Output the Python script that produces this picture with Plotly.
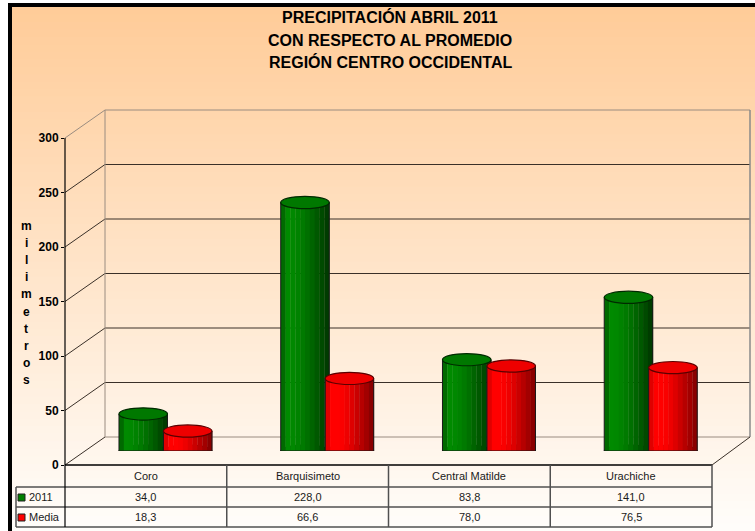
import plotly.graph_objects as go

# ---------------- data ----------------
categories = ["Coro", "Barquisimeto", "Central Matilde", "Urachiche"]
series_names = ["2011", "Media"]
values_2011 = [34.0, 228.0, 83.8, 141.0]
values_media = [18.3, 66.6, 78.0, 76.5]
y_ticks = [0, 50, 100, 150, 200, 250, 300]
title_lines = ["PRECIPITACIÓN ABRIL 2011", "CON RESPECTO AL PROMEDIO", "REGIÓN CENTRO OCCIDENTAL"]
axis_title = "milimetros"

# ---------------- geometry / style ----------------
W, H = 755, 531


def px(x):
    return x / W


def py(y):
    return 1 - y / H


FX0, FX1 = 65, 712          # front plane x extent (px)
FY0, FYT = 465, 138         # front plane y for 0 and 300 (px)
YMAX = 300
DX, DY = 40, -28            # depth offset of back wall (px)
UNIT = (FY0 - FYT) / YMAX   # px per data unit

BAR_W = 0.30
OFFSETS = [-0.29, -0.015]
N_STRIPS = 10
green_shades = ['#006a00', '#008a00', '#008800', '#008200', '#007a00',
                '#007000', '#006400', '#005800', '#004a00', '#003c00']
red_shades = ['#e00000', '#ff0000', '#ff0000', '#fa0000', '#ee0000',
              '#de0000', '#ca0000', '#b60000', '#a20000', '#8a0000']
shades = [green_shades, red_shades]
top_fill = ['#007800', '#ee0000']
top_line = ['#002a00', '#5a0000']
bot_fill = ['#005a00', '#b80000']
legend_colors = ['#008000', '#ff0000']
series_values = [values_2011, values_media]

fig = go.Figure()

# bars drawn as vertical strips to give a cylinder shading
for s, vals in enumerate(series_values):
    for k in range(N_STRIPS):
        fig.add_trace(go.Bar(
            x=categories, y=vals, xaxis='x2', yaxis='y2',
            width=BAR_W / N_STRIPS + 0.002,
            offset=OFFSETS[s] + k * BAR_W / N_STRIPS,
            marker=dict(color=shades[s][k], line=dict(width=0)),
            name=series_names[s], showlegend=False, hoverinfo='skip'))
    fig.add_trace(go.Bar(
        x=categories, y=vals, xaxis='x2', yaxis='y2',
        width=BAR_W, offset=OFFSETS[s],
        marker=dict(color='rgba(0,0,0,0)', line=dict(color='#1a1a1a', width=1)),
        name=series_names[s], showlegend=False,
        hovertemplate='%{x}: %{y:.1f}<extra>' + series_names[s] + '</extra>'))

shapes = []

# background gradient (kept inside the paper)
N_BG = 70
top_c = (255, 204, 153)
bot_c = (255, 253, 250)
y_start, y_end = 7, H
for i in range(N_BG):
    t = i / (N_BG - 1)
    c = tuple(int(round(top_c[j] + (bot_c[j] - top_c[j]) * t)) for j in range(3))
    ya = y_start + (y_end - y_start) * i / N_BG
    yb = min(H, y_start + (y_end - y_start) * (i + 1) / N_BG + 1)
    shapes.append(dict(type='rect', xref='paper', yref='paper',
                       x0=px(12), x1=1, y0=py(yb), y1=py(ya),
                       fillcolor='rgb(%d,%d,%d)' % c, line=dict(width=0), layer='below'))


def line(x0, y0, x1, y1, color, width=1):
    shapes.append(dict(type='line', xref='paper', yref='paper',
                       x0=px(x0), y0=py(y0), x1=px(x1), y1=py(y1),
                       line=dict(color=color, width=width), layer='below'))


# outer border (top and left only; right/bottom lie outside the picture)
line(8, 5, W, 5, 'black', 4)
line(10, 3, 10, H, 'black', 4)

# walls & gridlines
for v in y_ticks:
    fy = FY0 - v * UNIT
    by = fy + DY
    col = '#9a8c80' if v in (0, YMAX) else '#3a3028'
    line(FX0, fy, FX0 + DX, by, '#3a3028' if v != YMAX else '#9a8c80')
    line(FX0 + DX, by, FX1 + DX - 2, by, col)
line(FX0 + DX, FYT + DY, FX0 + DX, FY0 + DY, '#9a8c80')
line(FX1 + DX - 2, FYT + DY, FX1 + DX - 2, FY0 + DY, '#8a8a8a', 1.5)
line(FX1, FY0, FX1 + DX - 2, FY0 + DY, '#3a3028')

# table
col_edges = [FX0 + (FX1 - FX0) * i / len(categories) for i in range(len(categories) + 1)]
ROW_Y = [465, 487, 507, 527]
TBL_L = 16
line(FX0, ROW_Y[0], FX1, ROW_Y[0], '#000000', 1.5)
for ry in ROW_Y[1:]:
    line(TBL_L, ry, FX1, ry, '#505050', 1.5)
for cx in col_edges[1:]:
    line(cx, ROW_Y[0], cx, ROW_Y[-1], '#505050', 1.5)
line(TBL_L, ROW_Y[1], TBL_L, ROW_Y[-1], '#505050', 1.5)
# y axis line (front) through table
line(FX0, FYT, FX0, ROW_Y[-1], '#000000', 1.2)

# legend squares in table
for s in range(2):
    cy = (ROW_Y[s + 1] + ROW_Y[s + 2]) / 2
    shapes.append(dict(type='rect', xref='paper', yref='paper',
                       x0=px(18), x1=px(25), y0=py(cy + 4), y1=py(cy - 3),
                       fillcolor=legend_colors[s], line=dict(color='#202020', width=1), layer='above'))

# cylinder ellipses (bottom below bars, top above)
EH = 5.6  # half height of ellipse in data units
for s, vals in enumerate(series_values):
    for i, v in enumerate(vals):
        x0 = i + OFFSETS[s]
        x1 = x0 + BAR_W
        shapes.append(dict(type='circle', xref='x2', yref='y2', x0=x0, x1=x1,
                           y0=-EH, y1=EH, fillcolor=bot_fill[s],
                           line=dict(color='#1a1a1a', width=1), layer='below'))
        shapes.append(dict(type='circle', xref='x2', yref='y2', x0=x0, x1=x1,
                           y0=v - EH, y1=v + EH, fillcolor=top_fill[s],
                           line=dict(color=top_line[s], width=1.2), layer='above'))

annotations = []
# title
for k, (t, yy) in enumerate(zip(title_lines, [17, 40, 62])):
    annotations.append(dict(text='<b>' + t + '</b>', xref='paper', yref='paper',
                            x=px(390), y=py(yy), showarrow=False,
                            font=dict(family='Liberation Sans, Arial', size=16, color='black'),
                            xanchor='center', yanchor='middle'))
# stacked axis title
for k, ch in enumerate(axis_title):
    annotations.append(dict(text='<b>' + ch + '</b>', xref='paper', yref='paper',
                            x=px(26), y=py(226 + k * 17.1), showarrow=False,
                            font=dict(family='Liberation Sans, Arial', size=12, color='black'),
                            xanchor='center', yanchor='middle'))
# table text
TFONT = dict(family='Liberation Sans, Arial', size=11, color='#1a1a1a')
for i, c in enumerate(categories):
    annotations.append(dict(text=c, xref='x', yref='paper', x=c,
                            y=py((ROW_Y[0] + ROW_Y[1]) / 2), showarrow=False,
                            font=TFONT, xanchor='center', yanchor='middle'))
    for s, vals in enumerate(series_values):
        annotations.append(dict(text=('%.1f' % vals[i]).replace('.', ','), xref='x', yref='paper',
                                x=c, y=py((ROW_Y[s + 1] + ROW_Y[s + 2]) / 2), showarrow=False,
                                font=TFONT, xanchor='center', yanchor='middle'))
for s in range(2):
    annotations.append(dict(text=series_names[s], xref='paper', yref='paper',
                            x=px(27), y=py((ROW_Y[s + 1] + ROW_Y[s + 2]) / 2), showarrow=False,
                            font=TFONT, xanchor='left', yanchor='middle'))

fig.update_layout(
    width=W, height=H,
    margin=dict(l=0, r=0, t=0, b=0, pad=0, autoexpand=False),
    paper_bgcolor='white', plot_bgcolor='rgba(0,0,0,0)',
    barmode='overlay', showlegend=False,
    xaxis=dict(domain=[px(FX0), px(FX1)], range=[-0.5, len(categories) - 0.5],
               type='category', categoryarray=categories, automargin=False,
               visible=False, fixedrange=True),
    yaxis=dict(domain=[py(FY0), py(FYT)], range=[0, YMAX], anchor='x', automargin=False,
               tickvals=y_ticks, ticktext=['<b>%d</b>' % v for v in y_ticks],
               ticks='outside', ticklen=3, tickcolor='black',
               tickfont=dict(family='Liberation Sans, Arial', size=12, color='black'),
               showgrid=False, zeroline=False, showline=False, fixedrange=True),
    xaxis2=dict(domain=[px(FX0 + DX / 2), px(FX1 + DX / 2)], range=[-0.5, len(categories) - 0.5],
                type='category', categoryarray=categories, anchor='y2', automargin=False,
                visible=False, fixedrange=True),
    yaxis2=dict(domain=[py(FY0 + DY / 2), py(FYT + DY / 2)], range=[0, YMAX], anchor='x2',
                automargin=False, visible=False, fixedrange=True),
    shapes=shapes,
    annotations=annotations,
)

post = (
    "document.body.style.margin='0px';"
    "document.body.style.overflow='hidden';"
)
fig.write_html("out.html", config={'displayModeBar': False}, post_script=post)
